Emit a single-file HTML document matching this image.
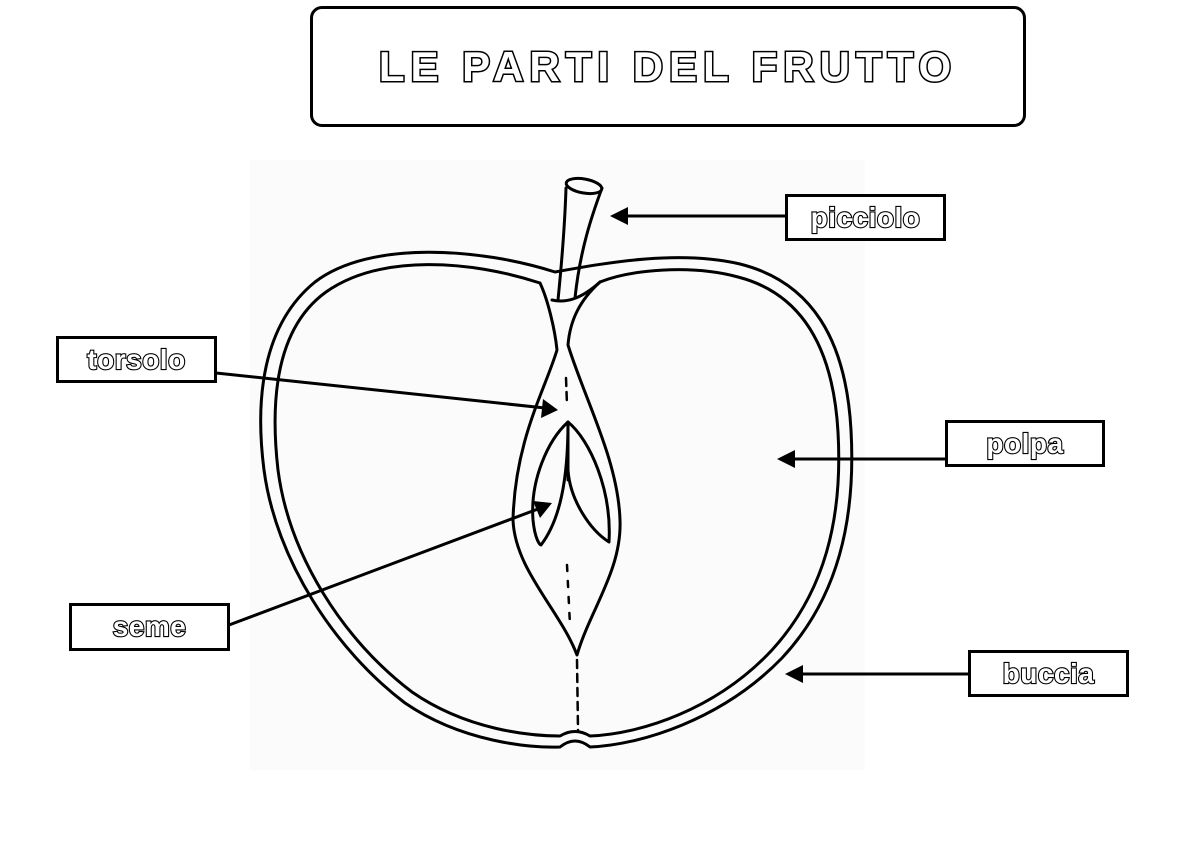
<!DOCTYPE html>
<html><head><meta charset="utf-8"><style>
html,body{margin:0;padding:0;background:#fff;width:1189px;height:841px;overflow:hidden}
.box{position:absolute;border:3px solid #000;background:#fff;box-sizing:border-box;display:flex;align-items:center;justify-content:center;font-family:"Liberation Sans",sans-serif;font-weight:bold;color:#fff;-webkit-text-stroke:2.2px #000;paint-order:stroke fill;}
.lab{font-size:28px;letter-spacing:0.5px}
</style></head><body>
<div class="box" style="left:310px;top:6px;width:716px;height:121px;border-radius:12px;font-size:42px;letter-spacing:6px;-webkit-text-stroke:3px #000">LE PARTI DEL FRUTTO</div>
<svg width="1189" height="841" style="position:absolute;left:0;top:0">
<rect x="250" y="160" width="615" height="610" fill="#fbfbfb"/>
<g fill="none" stroke="#000" stroke-width="3" stroke-linejoin="round" stroke-linecap="round">
<path d="M555,272 C480,248 370,240 315,282 C262,325 255,400 264,470 C276,560 335,650 405,703 C462,742 530,748 560,747 Q575,735 590,747 C640,745 722,720 782,658 C838,598 856,520 851,430 C846,340 812,282 740,264 C680,250 610,262 555,272 Z"/>
<path d="M540,283 C470,260 380,254 326,292 C276,328 270,400 278,470 C289,555 343,640 412,692 C467,730 530,736 560,736 Q575,727 590,736 C640,734 716,710 772,650 C824,593 843,520 838,432 C833,345 800,293 738,277 C690,264 630,270 600,282"/>
<path d="M540,283 C548,300 555,330 557,350 C545,390 515,440 513,520 C515,570 560,610 577,655 C590,610 622,570 620,520 C618,460 585,400 568,345 C570,320 580,300 600,282"/>
<path d="M552,300 C565,303 580,300 600,282"/>
<path d="M568,422 C548,440 530,480 533,520 C535,540 540,545 541,545 C560,520 568,480 568,422 Z"/>
<path d="M568,422 C590,440 612,490 609,542 C590,530 570,500 568,470 Z"/>
<path d="M568,422 L568,480"/>
<path d="M558,300 C562,260 565,220 566,188 M602,188 C592,215 580,250 575,298" fill="none"/>
<ellipse cx="584" cy="186" rx="18" ry="7" transform="rotate(10 584 186)" fill="#fbfbfb"/>
<path d="M577,660 L578,730" stroke-dasharray="8,6" stroke-width="2.5"/>
<path d="M567,565 L570,625" stroke-dasharray="6,10" stroke-width="2.5"/>
<path d="M566,378 L567,405" stroke-dasharray="8,6" stroke-width="2.5"/>
</g>
<g stroke="#000" stroke-width="3" fill="#000">
<line x1="785" y1="216" x2="625" y2="216"/><polygon points="610,216 628,207 628,225" stroke="none"/>
<line x1="216" y1="373" x2="545" y2="408"/><polygon points="558,410 541,418 543,399" stroke="none"/>
<line x1="945" y1="459" x2="792" y2="459"/><polygon points="777,459 795,450 795,468" stroke="none"/>
<line x1="229" y1="625" x2="538" y2="509"/><polygon points="552,503 540,518 533,501" stroke="none"/>
<line x1="968" y1="674" x2="800" y2="674"/><polygon points="785,674 803,665 803,683" stroke="none"/>
</g>
</svg>
<div class="box lab" style="left:785px;top:194px;width:161px;height:47px">picciolo</div>
<div class="box lab" style="left:56px;top:336px;width:161px;height:47px">torsolo</div>
<div class="box lab" style="left:945px;top:420px;width:160px;height:47px">polpa</div>
<div class="box lab" style="left:69px;top:603px;width:161px;height:48px">seme</div>
<div class="box lab" style="left:968px;top:650px;width:161px;height:47px">buccia</div>
</body></html>
